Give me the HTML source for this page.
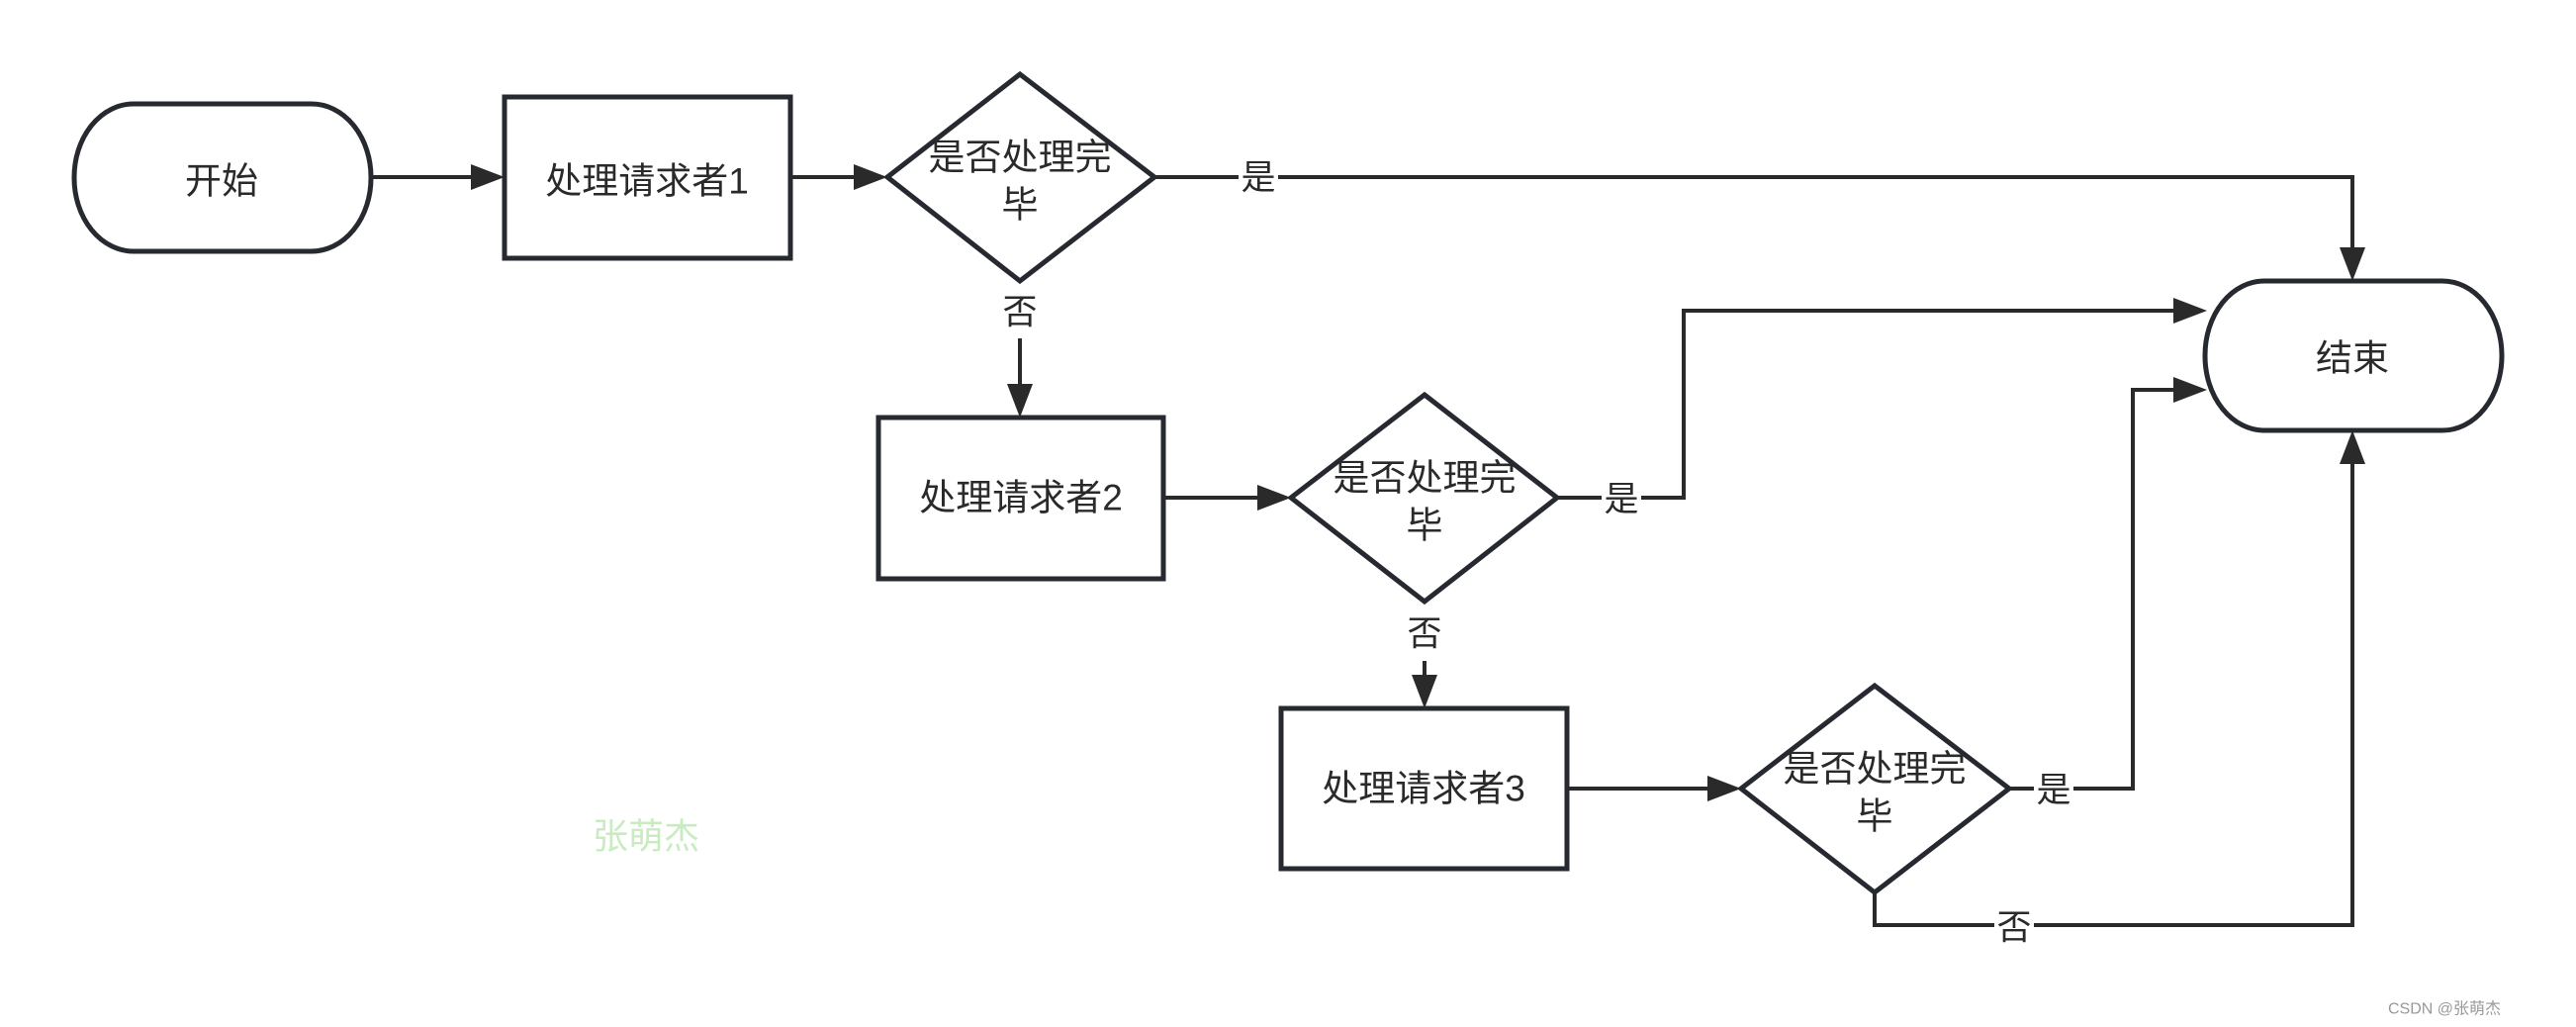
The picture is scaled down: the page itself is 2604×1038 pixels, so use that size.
<!DOCTYPE html>
<html><head><meta charset="utf-8"><style>
html,body{margin:0;padding:0;background:#fff;}
svg{display:block}
text{font-family:"Liberation Sans","Noto Sans CJK SC",sans-serif;fill:#2a2a2a;}
</style></head><body>
<svg width="2604" height="1038" viewBox="0 0 2604 1038" xmlns="http://www.w3.org/2000/svg">
<defs>
<marker id="a" markerWidth="10" markerHeight="10" refX="10" refY="5" orient="auto" markerUnits="userSpaceOnUse" viewBox="0 0 10 10">
</marker>
</defs>
<g stroke="#262a30" stroke-width="5" fill="none">
<rect x="75" y="105" width="300" height="149" rx="60" ry="74"/>
<rect x="510" y="98" width="289" height="163"/>
<polygon points="1031,75 1167,179 1031,284 897,179"/>
<rect x="2229" y="284" width="300" height="151" rx="60" ry="75"/>
<rect x="888" y="422" width="288" height="163"/>
<polygon points="1440,399 1574,503 1440,608 1305,503"/>
<rect x="1295" y="716" width="289" height="162"/>
<polygon points="1895,693 2031,797 1895,902 1760,797"/>
</g>
<g stroke="#2a2a2a" stroke-width="4" fill="none">
<line x1="375" y1="179" x2="480" y2="179"/>
<line x1="799" y1="179" x2="865" y2="179"/>
<polyline points="1167,179 2378,179 2378,252"/>
<line x1="1031" y1="342" x2="1031" y2="392"/>
<line x1="1176" y1="503" x2="1273" y2="503"/>
<polyline points="1574,503 1702,503 1702,314 2197,314"/>
<line x1="1440" y1="668" x2="1440" y2="686"/>
<line x1="1584" y1="797" x2="1728" y2="797"/>
<polyline points="2031,797 2156,797 2156,394 2197,394"/>
<polyline points="1895,902 1895,935 2378,935 2378,467"/>
</g>
<g fill="#2a2a2a">
<polygon points="510,179 476,166 476,192"/>
<polygon points="897,179 863,166 863,192"/>
<polygon points="2378,284 2365,250 2391,250"/>
<polygon points="1031,422 1018,388 1044,388"/>
<polygon points="1305,503 1271,490 1271,516"/>
<polygon points="2231,314 2197,301 2197,327"/>
<polygon points="1440,716 1427,682 1453,682"/>
<polygon points="1760,797 1726,784 1726,810"/>
<polygon points="2231,394 2197,381 2197,407"/>
<polygon points="2378,435 2365,469 2391,469"/>
</g>
<g font-size="37" text-anchor="middle" dominant-baseline="central">
<text x="224" y="183">开始</text>
<text x="654" y="183">处理请求者1</text>
<text x="1031" y="159">是否处理完</text>
<text x="1031" y="207">毕</text>
<text x="2378" y="362">结束</text>
<text x="1032" y="503">处理请求者2</text>
<text x="1440" y="483">是否处理完</text>
<text x="1440" y="531">毕</text>
<text x="1439" y="797">处理请求者3</text>
<text x="1895" y="777">是否处理完</text>
<text x="1895" y="825">毕</text>
</g>
<g font-size="35" text-anchor="middle" dominant-baseline="central">
<rect x="1252" y="160" width="40" height="40" fill="#fff"/>
<text x="1272" y="180">是</text>
<text x="1031" y="316">否</text>
<rect x="1619" y="483" width="40" height="40" fill="#fff"/>
<text x="1639" y="505">是</text>
<rect x="1420" y="621" width="40" height="40" fill="#fff"/>
<text x="1440" y="641">否</text>
<rect x="2056" y="777" width="40" height="40" fill="#fff"/>
<text x="2076" y="799">是</text>
<rect x="2016" y="918" width="40" height="40" fill="#fff"/>
<text x="2036" y="938">否</text>
</g>
<text x="653" y="845" font-size="36" text-anchor="middle" dominant-baseline="central" style="fill:#c8ecc0">张萌杰</text>
<text x="2528" y="1020" font-size="16" text-anchor="end" dominant-baseline="central" style="fill:#999">CSDN @张萌杰</text>
</svg>
</body></html>
